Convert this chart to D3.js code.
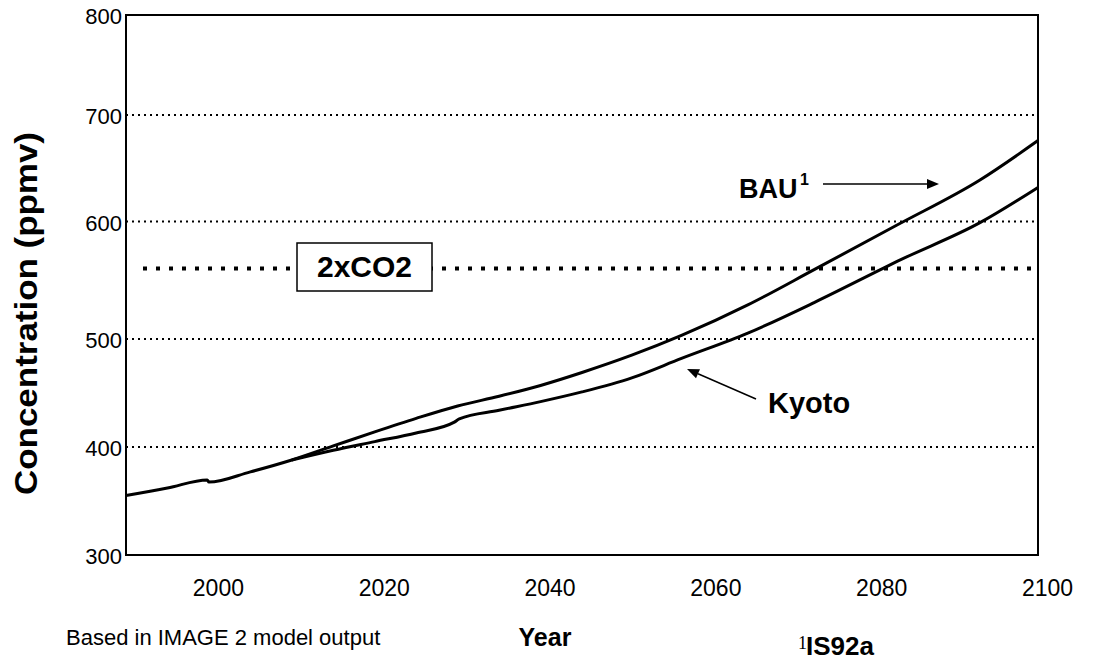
<!DOCTYPE html>
<html>
<head>
<meta charset="utf-8">
<script src="https://cdn.jsdelivr.net/npm/d3@7"></script>
<style>
  html, body { margin: 0; padding: 0; background: #fff; }
  svg { display: block; font-family: "Liberation Sans", Arial, sans-serif; }
</style>
</head>
<body>
<svg id="chart" width="1099" height="660"></svg>
<script>
// CO2 concentration (ppmv) under the IS92a business-as-usual path and with Kyoto measures
const bauYears   = [1990, 1995, 1999.8, 2000, 2005, 2010, 2015, 2020, 2025, 2030, 2035, 2040, 2045, 2051, 2057, 2065, 2073, 2083, 2093, 2100];
const bauValues  = [355,  362,  369.5,  367.5, 377, 388,  401,  414,  426.5, 438, 447,  457,  469,  485,  503,  529,  559,  597,  639,  676];
const kyotoYears  = [2010, 2015, 2020, 2025, 2029.6, 2030.2, 2035, 2040, 2045, 2051, 2057, 2065, 2073, 2081, 2083, 2093, 2100];
const kyotoValues = [388,  397,  405,  413,  423,    426,    434,  442,  451,  464,  482,  505,  531,  559,  566,  599,  632];

const xTickYears = [2000, 2020, 2040, 2060, 2080, 2100];
const yTickValues = [300, 400, 500, 600, 700, 800];
const gridValues = [400, 500, 600, 700];
const doubledCO2 = 560;

const svg = d3.select("#chart");
const plotLeft = 126, plotRight = 1038, plotTop = 15, plotBottom = 555;

const x = d3.scaleLinear().domain([1990, 2100]).range([plotLeft, plotRight]);
// the printed value axis is spaced slightly unevenly between gridlines
const y = d3.scaleLinear()
  .domain([300, 400, 500, 600, 700, 800])
  .range([555, 447, 339, 221.5, 115, 15]);

// dotted gridlines
svg.append("g")
  .selectAll("line")
  .data(gridValues)
  .join("line")
  .attr("x1", plotLeft).attr("x2", plotRight)
  .attr("y1", d => y(d)).attr("y2", d => y(d))
  .attr("stroke", "#000")
  .attr("stroke-width", 2)
  .attr("stroke-dasharray", "2,4");

// doubled-CO2 reference line
svg.append("line")
  .attr("x1", 143).attr("x2", 1031)
  .attr("y1", y(doubledCO2)).attr("y2", y(doubledCO2))
  .attr("stroke", "#000")
  .attr("stroke-width", 4)
  .attr("stroke-dasharray", "4,9");

svg.append("rect")
  .attr("x", 297).attr("y", 243)
  .attr("width", 135).attr("height", 48)
  .attr("fill", "#fff")
  .attr("stroke", "#000")
  .attr("stroke-width", 1.5);
svg.append("text")
  .attr("x", 364.5).attr("y", 277)
  .attr("text-anchor", "middle")
  .attr("font-weight", "bold")
  .attr("font-size", 30)
  .text("2xCO2");

// plot frame
svg.append("rect")
  .attr("x", plotLeft).attr("y", plotTop)
  .attr("width", plotRight - plotLeft).attr("height", plotBottom - plotTop)
  .attr("fill", "none")
  .attr("stroke", "#000")
  .attr("stroke-width", 2);

// axes (labels only)
const yAxis = svg.append("g")
  .attr("transform", `translate(${plotLeft},0)`)
  .call(d3.axisLeft(y).tickValues(yTickValues).tickSize(0).tickPadding(4).tickFormat(d3.format("d")));
yAxis.select(".domain").remove();
yAxis.selectAll("text")
  .attr("font-family", "Liberation Sans, Arial, sans-serif")
  .attr("font-size", 22)
  .attr("fill", "#000")
  .attr("dy", "0.4em");

const xAxis = svg.append("g")
  .attr("transform", `translate(0,${plotBottom})`)
  .call(d3.axisBottom(x).tickValues(xTickYears).tickSize(0).tickFormat(d3.format("d")));
xAxis.select(".domain").remove();
xAxis.selectAll("text")
  .attr("font-family", "Liberation Sans, Arial, sans-serif")
  .attr("font-size", 23)
  .attr("fill", "#000")
  .attr("y", 41)
  .attr("dy", 0)
  .attr("dx", 9);

// series
const line = d3.line()
  .x(d => x(d[0]))
  .y(d => y(d[1]))
  .curve(d3.curveMonotoneX);

svg.append("path")
  .datum(d3.zip(bauYears, bauValues))
  .attr("d", line)
  .attr("fill", "none")
  .attr("stroke", "#000")
  .attr("stroke-width", 3);

svg.append("path")
  .datum(d3.zip(kyotoYears, kyotoValues))
  .attr("d", line)
  .attr("fill", "none")
  .attr("stroke", "#000")
  .attr("stroke-width", 3);

// annotations
function arrow(x1, y1, x2, y2) {
  const ang = Math.atan2(y2 - y1, x2 - x1);
  const len = 12, hw = 5;
  const bx = x2 - len * Math.cos(ang), by = y2 - len * Math.sin(ang);
  svg.append("line")
    .attr("x1", x1).attr("y1", y1).attr("x2", bx).attr("y2", by)
    .attr("stroke", "#000").attr("stroke-width", 1.5);
  const px = -Math.sin(ang) * hw, py = Math.cos(ang) * hw;
  svg.append("path")
    .attr("d", `M${x2},${y2}L${bx + px},${by + py}L${bx - px},${by - py}Z`)
    .attr("fill", "#000");
}

svg.append("text")
  .attr("x", 739).attr("y", 198)
  .attr("font-weight", "bold")
  .attr("font-size", 27)
  .text("BAU");
svg.append("text")
  .attr("x", 800).attr("y", 185)
  .attr("font-weight", "bold")
  .attr("font-size", 16)
  .text("1");
arrow(823, 184, 939, 184);

svg.append("text")
  .attr("x", 768).attr("y", 413)
  .attr("font-weight", "bold")
  .attr("font-size", 29)
  .text("Kyoto");
arrow(756, 399, 687, 369);

// titles and notes
svg.append("text")
  .attr("transform", "translate(36.5,313.5) rotate(-90)")
  .attr("text-anchor", "middle")
  .attr("font-weight", "bold")
  .attr("font-size", 31)
  .attr("textLength", 363)
  .attr("lengthAdjust", "spacingAndGlyphs")
  .text("Concentration (ppmv)");

svg.append("text")
  .attr("x", 545).attr("y", 646)
  .attr("text-anchor", "middle")
  .attr("font-weight", "bold")
  .attr("font-size", 25)
  .text("Year");

svg.append("text")
  .attr("x", 66).attr("y", 645)
  .attr("font-size", 22)
  .text("Based in IMAGE 2 model output");

svg.append("text")
  .attr("x", 798).attr("y", 649)
  .attr("font-family", "Liberation Serif, Times New Roman, serif")
  .attr("font-size", 18)
  .text("1");
svg.append("text")
  .attr("x", 806).attr("y", 655)
  .attr("font-weight", "bold")
  .attr("font-size", 26)
  .text("IS92a");
</script>
</body>
</html>
